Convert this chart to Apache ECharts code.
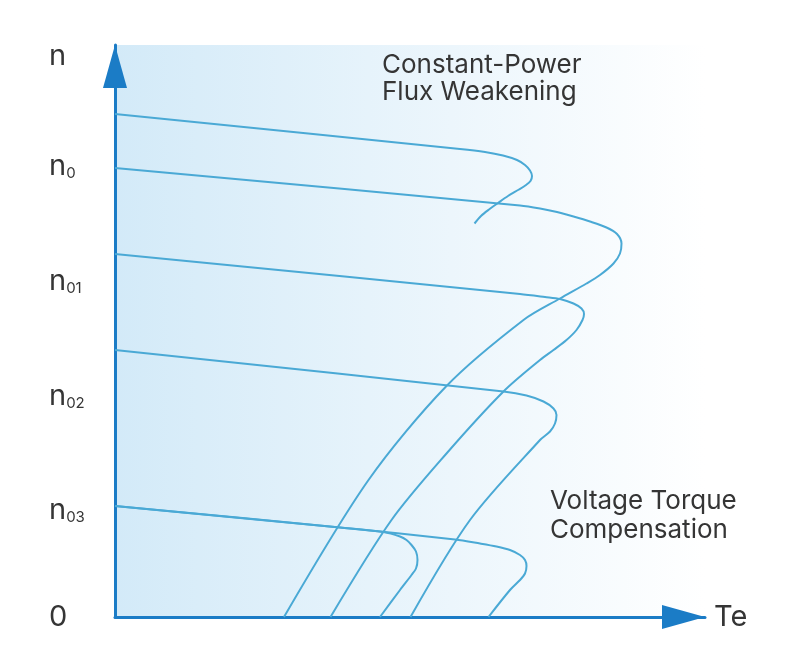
<!DOCTYPE html>
<html>
<head>
<meta charset="utf-8">
<script src="https://cdn.jsdelivr.net/npm/echarts@6/dist/echarts.min.js"></script>
<style>
  html, body { margin: 0; padding: 0; background: #fff; }
  #chart { width: 800px; height: 667px; }
</style>
</head>
<body>
<div id="chart"></div>
<script>
// speed axis labels (main letter + subscript) and where they sit on the n axis
const yTickMain = ["n", "n", "n", "n", "n", "0"];
const yTickSub = ["", "0", "01", "02", "03", ""];
const yTickValues = [112.2, 90.2, 67.1, 44.2, 21.4, 0];

// curves: [Te, n]
const fluxWeakening = [[0, 100.6], [69, 93.6], [74, 93], [77.6, 92.3], [80.4, 91.4], [82, 90.4], [83, 89.3], [83.4, 88.2], [83.1, 87.2], [82.2, 86.4], [80.8, 85.5], [78.6, 84.2], [76.6, 82.8], [74.8, 81.5], [73.2, 80.2], [71.9, 78.7]];
const curveN0 = [[0, 89.8], [81, 82.3], [85, 81.7], [88.4, 81], [91.7, 80.1], [95, 79.1], [98.3, 77.9], [100.4, 76.6], [101.3, 74.7], [101, 72.7], [99.7, 70.7], [97, 68.4], [94.3, 66.7], [89, 63.7], [81.7, 59.4], [66.3, 46.2], [50.7, 27.4], [33.8, 0]];
const curveN01 = [[0, 72.6], [81, 64.6], [86, 64], [89, 63.6], [91.7, 62.7], [93.3, 61.7], [93.8, 60.6], [93.5, 59.4], [92.3, 57.4], [90.3, 55.4], [87.7, 53.4], [85, 51.4], [77.7, 45.1], [66.3, 32.7], [55.3, 19.4], [43.1, 0]];
const curveN02 = [[0, 53.4], [77.7, 45.1], [82.3, 44.3], [85.7, 43.1], [87.7, 41.7], [88.3, 40.4], [88, 38.7], [87, 37.1], [85, 35.4], [71, 19.4], [59.1, 0]];
const curveN03 = [[0, 22.2], [45, 17.9], [68, 15.5], [73, 14.7], [76.3, 14.1], [79, 13.4], [81, 12.4], [82, 11.4], [82.3, 10.2], [82, 8.7], [81, 7.4], [79, 5.4], [74.7, 0]];
const curveN03Low = [[0, 22.2], [45, 17.9], [53.7, 17], [57, 16.1], [58.3, 15.4], [59.3, 14.4], [60.2, 13.1], [60.5, 11.4], [60.2, 9.7], [59.3, 8.4], [57, 5.4], [53, 0]];

const curves = [fluxWeakening, curveN0, curveN01, curveN02, curveN03, curveN03Low];

const chart = echarts.init(document.getElementById("chart"));

const axisColor = "#1b7cc6";
const curveColor = "#4aa9d5";
const textColor = "#353535";
const fontFamily = "Inter, 'Noto Sans', sans-serif";

const arrowLine = {
  show: true,
  symbol: ["none", "triangle"],
  symbolSize: [24, 43],
  symbolOffset: [0, -21.5],
  lineStyle: { color: axisColor, width: 3 },
};

const option = {
  animation: false,
  grid: {
    left: 115,
    right: 95,
    top: 45,
    bottom: 50,
    show: true,
    borderWidth: 0,
    backgroundColor: new echarts.graphic.LinearGradient(0, 0, 1, 0, [
      { offset: 0, color: "#d3eaf8" },
      { offset: 1, color: "#ffffff" },
    ]),
  },
  xAxis: {
    type: "value",
    min: 0,
    max: 118,
    name: "Te",
    nameLocation: "end",
    nameGap: 9,
    nameTextStyle: { color: textColor, fontSize: 29, fontFamily: fontFamily },
    axisLine: arrowLine,
    axisTick: { show: false },
    axisLabel: { show: false },
    splitLine: { show: false },
  },
  yAxis: {
    type: "value",
    min: 0,
    max: 114.4,
    axisLine: arrowLine,
    axisTick: { show: false },
    splitLine: { show: false },
    axisLabel: {
      customValues: yTickValues,
      align: "left",
      margin: 66,
      formatter: function (value) {
        const i = yTickValues.indexOf(value);
        if (i < 0) return "";
        const sub = yTickSub[i] ? "{s|" + yTickSub[i] + "}" : "";
        return "{m|" + yTickMain[i] + "}" + sub;
      },
      rich: {
        m: { fontSize: 29, lineHeight: 29, color: textColor, fontFamily: fontFamily },
        s: { fontSize: 15, lineHeight: 14, verticalAlign: "bottom", color: textColor, fontFamily: fontFamily },
      },
    },
  },
  graphic: [
    {
      type: "text",
      left: 382,
      top: 52,
      style: {
        text: "Constant-Power\nFlux Weakening",
        fill: textColor,
        font: "26px " + fontFamily,
        lineHeight: 27,
      },
    },
    {
      type: "text",
      left: 550,
      top: 486,
      style: {
        text: "Voltage Torque\nCompensation",
        fill: textColor,
        font: "26px " + fontFamily,
        lineHeight: 29.5,
      },
    },
  ],
  series: curves.map(function (data) {
    return {
      type: "line",
      data: data,
      smooth: 0.3,
      showSymbol: false,
      clip: false,
      lineStyle: { color: curveColor, width: 2 },
    };
  }),
};

option && chart.setOption(option);
</script>
</body>
</html>
